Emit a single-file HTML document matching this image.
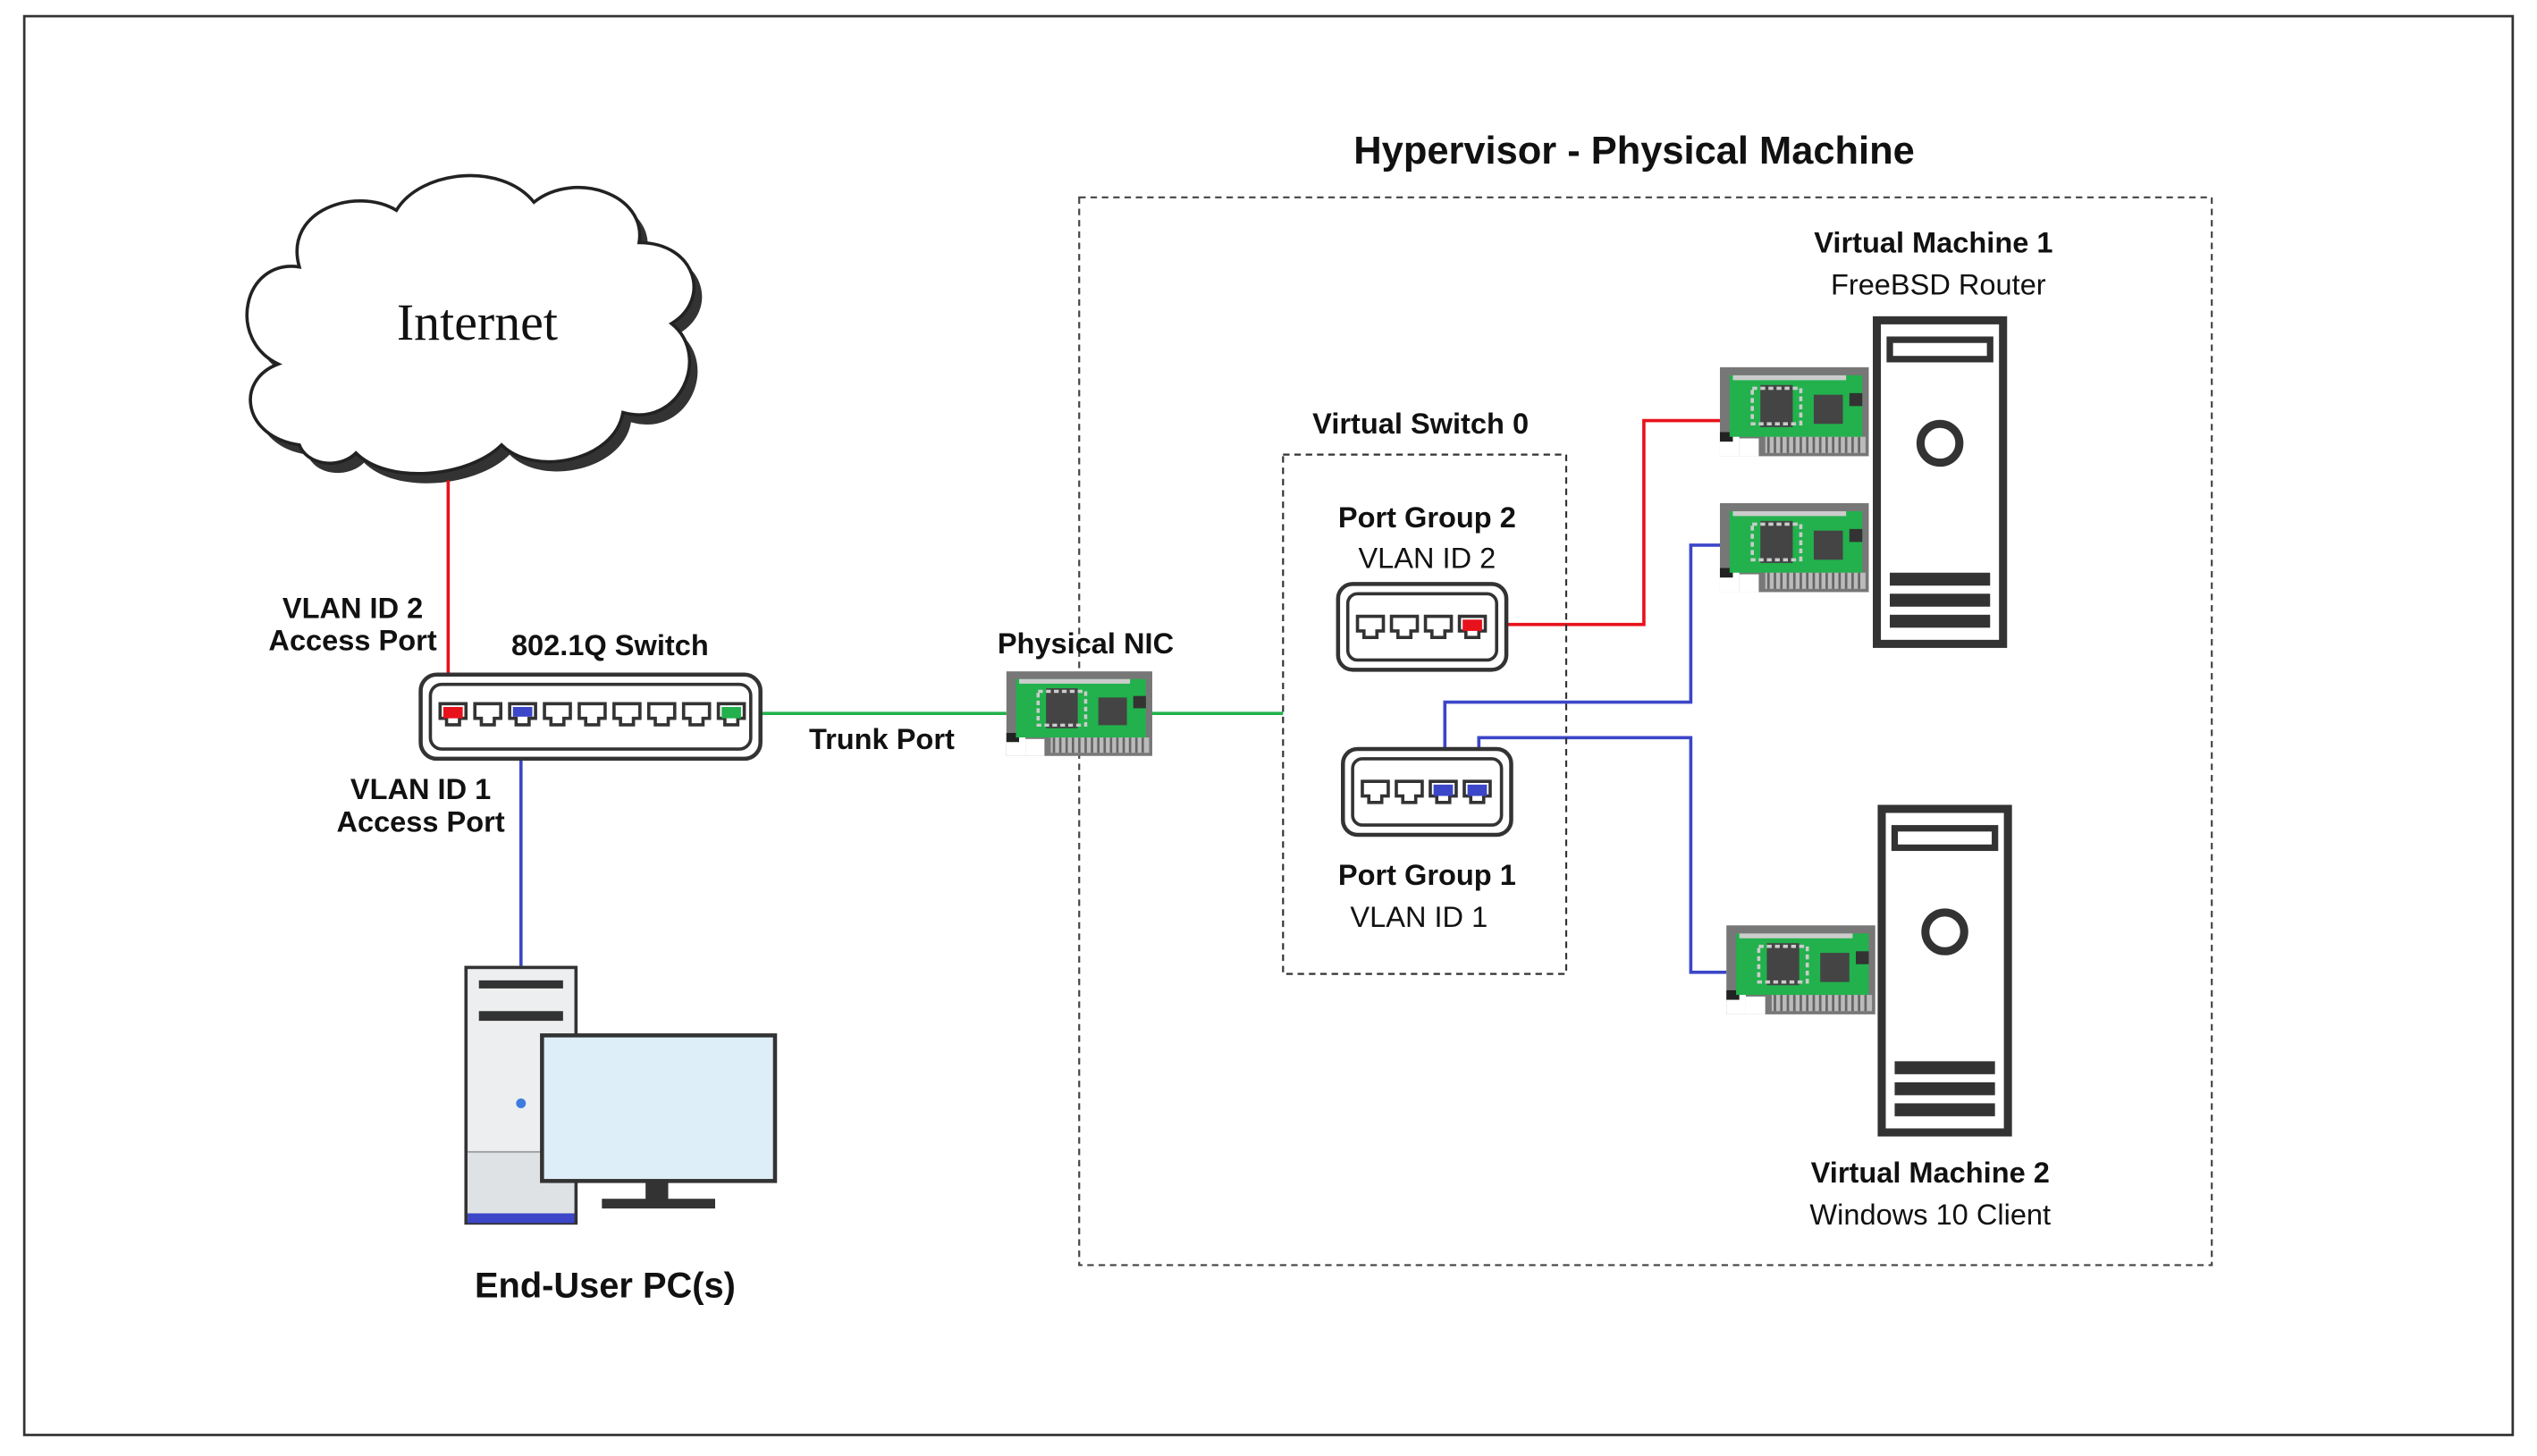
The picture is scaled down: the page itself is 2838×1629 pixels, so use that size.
<!DOCTYPE html>
<html><head><meta charset="utf-8"><style>
html,body{margin:0;padding:0;background:#fff;}
svg{display:block;}
text{font-family:"Liberation Sans",sans-serif;fill:#111;}
.b{font-weight:bold;}
</style></head><body>
<svg width="2838" height="1629" viewBox="0 0 1568 900" preserveAspectRatio="none" xmlns="http://www.w3.org/2000/svg">
<defs>
<g id="port"><path d="M0,0 h16 v9 h-4 v4 h-8 v-4 h-4 z" fill="#fff" stroke="#333" stroke-width="2"/></g>
<g id="nic">
<rect x="0" y="0" width="92" height="55" fill="#777"/>
<rect x="0" y="40" width="12" height="15" fill="#fff"/>
<rect x="0" y="40" width="8" height="6" fill="#222"/>
<rect x="12" y="44" width="12" height="11" fill="#fff"/>
<rect x="6" y="5" width="82" height="38" fill="#22b14c"/>
<rect x="8" y="5" width="70" height="3" fill="#ccc"/>
<rect x="25" y="11" width="20" height="26" fill="#444"/>
<rect x="20" y="13" width="30" height="22" fill="none" stroke="#ccc" stroke-width="2" stroke-dasharray="3,2"/>
<rect x="58" y="17" width="18" height="18" fill="#444"/>
<rect x="80" y="16" width="8" height="8" fill="#333"/>
<rect x="28" y="43" width="62" height="10" fill="#bbb"/>
<path d="M30,43 v10 M34,43 v10 M38,43 v10 M42,43 v10 M46,43 v10 M50,43 v10 M54,43 v10 M58,43 v10 M62,43 v10 M66,43 v10 M70,43 v10 M74,43 v10 M78,43 v10 M82,43 v10 M86,43 v10" stroke="#666" stroke-width="1.5"/>
</g>
<g id="tower">
<rect x="2" y="2" width="78" height="200" fill="#fff" stroke="#333" stroke-width="5"/>
<rect x="10" y="14" width="62" height="12" fill="#fff" stroke="#333" stroke-width="4"/>
<circle cx="41" cy="78" r="12" fill="none" stroke="#333" stroke-width="5"/>
<rect x="10" y="158" width="62" height="8" fill="#333"/>
<rect x="10" y="171" width="62" height="8" fill="#333"/>
<rect x="10" y="184" width="62" height="8" fill="#333"/>
</g>
</defs>
<rect x="15" y="10" width="1538" height="877" fill="none" stroke="#333" stroke-width="1.5"/>
<text x="1010" y="101" font-size="24" text-anchor="middle" class="b">Hypervisor - Physical Machine</text>
<rect x="667" y="122" width="700" height="660" fill="none" stroke="#444" stroke-width="1.2" stroke-dasharray="4,3"/>
<!-- cloud -->
<path d="M185,275 C150,270 145,235 172,225 C140,210 150,160 185,165 C175,130 220,115 245,130 C260,105 310,100 330,125 C355,105 400,120 395,150 C430,150 440,185 415,200 C440,220 420,265 385,255 C380,285 330,295 310,275 C290,295 240,300 220,280 C210,290 190,288 185,275 Z" fill="#333" transform="translate(5,6)"/>
<path d="M185,275 C150,270 145,235 172,225 C140,210 150,160 185,165 C175,130 220,115 245,130 C260,105 310,100 330,125 C355,105 400,120 395,150 C430,150 440,185 415,200 C440,220 420,265 385,255 C380,285 330,295 310,275 C290,295 240,300 220,280 C210,290 190,288 185,275 Z" fill="#fff" stroke="#222" stroke-width="2"/>
<text x="295" y="210" font-size="32" text-anchor="middle" style="font-family:'Liberation Serif',serif">Internet</text>
<!-- lines -->
<path d="M277,297 V442" stroke="#e8121c" stroke-width="2" fill="none"/>
<path d="M322,444 V597" stroke="#3c46c8" stroke-width="2" fill="none"/>
<path d="M458,441 H622 M712,441 H793" stroke="#22b14c" stroke-width="2" fill="none"/>
<path d="M912,386 H1016 V260 H1065" stroke="#e8121c" stroke-width="2" fill="none"/>
<path d="M893,489 V434 H1045 V337 H1065" stroke="#3c46c8" stroke-width="2" fill="none"/>
<path d="M914,489 V456 H1045 V601 H1067" stroke="#3c46c8" stroke-width="2" fill="none"/>
<!-- switch -->
<rect x="260" y="417" width="210" height="52" rx="10" fill="#fff" stroke="#333" stroke-width="2.5"/>
<rect x="266" y="423" width="198" height="40" rx="7" fill="none" stroke="#333" stroke-width="2"/>
<g transform="translate(272,435)">
<use href="#port" x="0"/><use href="#port" x="21.5"/><use href="#port" x="43"/><use href="#port" x="64.5"/><use href="#port" x="86"/><use href="#port" x="107.5"/><use href="#port" x="129"/><use href="#port" x="150.5"/><use href="#port" x="172"/>
<rect x="2" y="2" width="12" height="7" fill="#e8121c"/><rect x="45" y="2" width="12" height="6" fill="#3c46c8"/><rect x="174" y="2" width="12" height="7" fill="#22b14c"/>
</g>
<text x="377" y="405" font-size="18" text-anchor="middle" class="b">802.1Q Switch</text>
<text x="218" y="382" font-size="18" text-anchor="middle" class="b">VLAN ID 2</text>
<text x="218" y="402" font-size="18" text-anchor="middle" class="b">Access Port</text>
<text x="260" y="494" font-size="18" text-anchor="middle" class="b">VLAN ID 1</text>
<text x="260" y="514" font-size="18" text-anchor="middle" class="b">Access Port</text>
<text x="545" y="463" font-size="18" text-anchor="middle" class="b">Trunk Port</text>
<!-- physical NIC -->
<use href="#nic" transform="translate(622,415) scale(0.98,0.95)"/>
<text x="671" y="404" font-size="18" text-anchor="middle" class="b">Physical NIC</text>
<!-- virtual switch -->
<rect x="793" y="281" width="175" height="321" fill="none" stroke="#333" stroke-width="1.2" stroke-dasharray="4,3"/>
<text x="878" y="268" font-size="18" text-anchor="middle" class="b">Virtual Switch 0</text>
<text x="882" y="326" font-size="18" text-anchor="middle" class="b">Port Group 2</text>
<text x="882" y="351" font-size="18" text-anchor="middle">VLAN ID 2</text>
<rect x="827" y="361" width="104" height="53" rx="9" fill="#fff" stroke="#333" stroke-width="2.5"/>
<rect x="833" y="367" width="92" height="41" rx="6" fill="none" stroke="#333" stroke-width="2"/>
<g transform="translate(839,381)"><use href="#port" x="0"/><use href="#port" x="21"/><use href="#port" x="42"/><use href="#port" x="63"/><rect x="65" y="2" width="12" height="7" fill="#e8121c"/></g>
<rect x="830" y="463" width="104" height="53" rx="9" fill="#fff" stroke="#333" stroke-width="2.5"/>
<rect x="836" y="469" width="92" height="41" rx="6" fill="none" stroke="#333" stroke-width="2"/>
<g transform="translate(842,483)"><use href="#port" x="0"/><use href="#port" x="21"/><use href="#port" x="42"/><use href="#port" x="63"/><rect x="44" y="2" width="12" height="7" fill="#3c46c8"/><rect x="65" y="2" width="12" height="7" fill="#3c46c8"/></g>
<text x="882" y="547" font-size="18" text-anchor="middle" class="b">Port Group 1</text>
<text x="877" y="573" font-size="18" text-anchor="middle">VLAN ID 1</text>
<!-- VMs -->
<use href="#nic" transform="translate(1063,227)"/>
<use href="#nic" transform="translate(1063,311)"/>
<use href="#nic" transform="translate(1067,572)"/>
<use href="#tower" transform="translate(1158,196)"/>
<use href="#tower" transform="translate(1161,498)"/>
<text x="1195" y="156" font-size="18" text-anchor="middle" class="b">Virtual Machine 1</text>
<text x="1198" y="182" font-size="18" text-anchor="middle">FreeBSD Router</text>
<text x="1193" y="731" font-size="18" text-anchor="middle" class="b">Virtual Machine 2</text>
<text x="1193" y="757" font-size="18" text-anchor="middle">Windows 10 Client</text>
<!-- PC -->
<rect x="288" y="598" width="68" height="158" fill="#eceef0" stroke="#333" stroke-width="2"/>
<rect x="296" y="606" width="52" height="5" fill="#333"/>
<rect x="296" y="625" width="52" height="6" fill="#333"/>
<rect x="289" y="712" width="66" height="38" fill="#dfe2e5"/>
<line x1="289" y1="712" x2="355" y2="712" stroke="#999"/>
<rect x="289" y="750" width="66" height="6" fill="#3c46c8"/>
<circle cx="322" cy="682" r="3" fill="#3c7be0"/>
<rect x="335" y="640" width="144" height="90" fill="#ddeef8" stroke="#333" stroke-width="2.5"/>
<rect x="399" y="730" width="14" height="12" fill="#333"/>
<rect x="372" y="741" width="70" height="6" fill="#333"/>
<text x="374" y="802" font-size="22" text-anchor="middle" class="b">End-User PC(s)</text>
</svg>
</body></html>
